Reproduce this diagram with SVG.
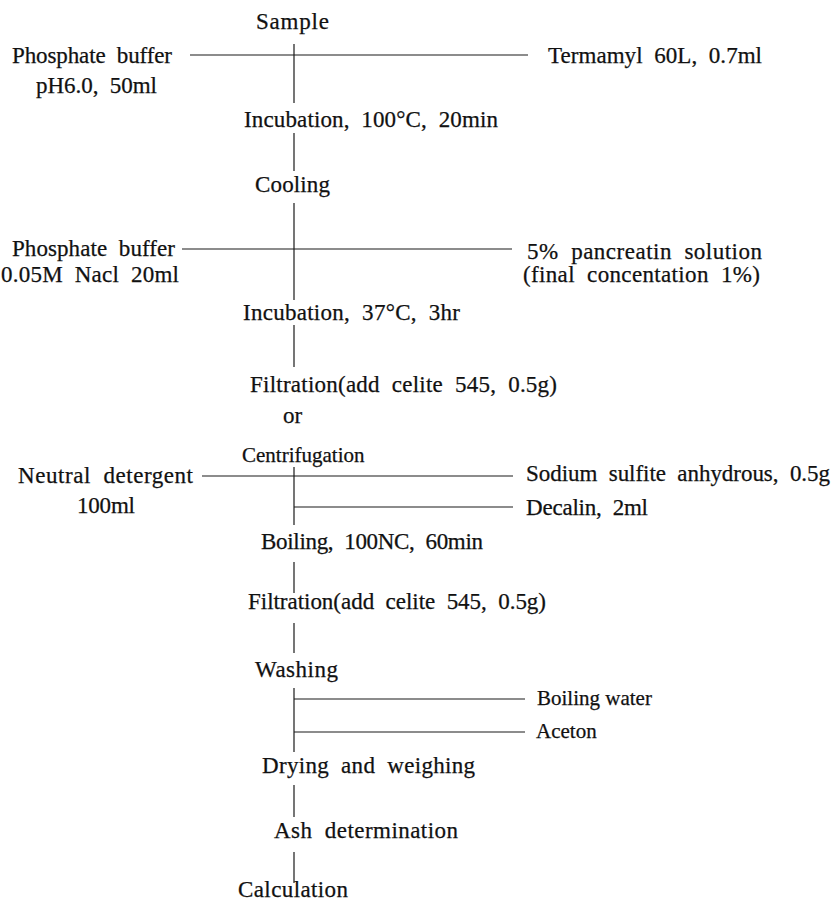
<svg xmlns="http://www.w3.org/2000/svg" width="832" height="904" viewBox="0 0 832 904">
<style>
text{font-family:"Liberation Serif","Times New Roman",serif;font-size:23px;fill:#111;stroke:#111;stroke-width:0.25;white-space:pre}
.s{font-size:21px}
.c line{stroke:#1a1a1a;stroke-width:1.2}
</style>
<rect width="832" height="904" fill="#fff"/>
<g class="c" id="connectors">
<line x1="294" y1="44" x2="294" y2="103"/>
<line x1="190" y1="55" x2="528" y2="55"/>
<line x1="294" y1="133" x2="294" y2="171"/>
<line x1="294" y1="203" x2="294" y2="300"/>
<line x1="182" y1="249" x2="512" y2="249"/>
<line x1="294" y1="325" x2="294" y2="367"/>
<line x1="202" y1="476" x2="513" y2="476"/>
<line x1="294" y1="467" x2="294" y2="525"/>
<line x1="294" y1="507" x2="513" y2="507"/>
<line x1="294" y1="562" x2="294" y2="593"/>
<line x1="294" y1="623" x2="294" y2="653"/>
<line x1="294" y1="688" x2="294" y2="752"/>
<line x1="294" y1="699" x2="525" y2="699"/>
<line x1="294" y1="732" x2="525" y2="732"/>
<line x1="294" y1="785" x2="294" y2="817"/>
<line x1="294" y1="852" x2="294" y2="883"/>
</g>
<g id="sample"><text x="256" y="29" textLength="73">Sample</text></g>
<g id="phosphate1"><text x="12" y="63" textLength="160">Phosphate  buffer</text><text x="36" y="93" textLength="121">pH6.0,  50ml</text></g>
<g id="termamyl"><text x="548" y="63" textLength="214">Termamyl  60L,  0.7ml</text></g>
<g id="incubation1"><text x="244" y="127" textLength="254">Incubation,  100°C,  20min</text></g>
<g id="cooling"><text x="255" y="192" textLength="75">Cooling</text></g>
<g id="phosphate2"><text x="12" y="256" textLength="163">Phosphate  buffer</text><text x="1" y="282" textLength="178">0.05M  Nacl  20ml</text></g>
<g id="pancreatin"><text x="527" y="259" textLength="235">5%  pancreatin  solution</text><text x="523" y="282" textLength="237">(final  concentation  1%)</text></g>
<g id="incubation2"><text x="243" y="320" textLength="217">Incubation,  37°C,  3hr</text></g>
<g id="filtration1"><text x="250" y="392" textLength="307">Filtration(add  celite  545,  0.5g)</text><text x="283" y="423">or</text><text x="242" y="462" class="s">Centrifugation</text></g>
<g id="neutral"><text x="18" y="483" textLength="175">Neutral  detergent</text><text x="77" y="513" textLength="58">100ml</text></g>
<g id="sodium"><text x="526" y="481" textLength="304">Sodium  sulfite  anhydrous,  0.5g</text></g>
<g id="decalin"><text x="526" y="515" textLength="122">Decalin,  2ml</text></g>
<g id="boiling"><text x="261" y="549" textLength="222">Boiling,  100NC,  60min</text></g>
<g id="filtration2"><text x="248" y="609" textLength="298">Filtration(add  celite  545,  0.5g)</text></g>
<g id="washing"><text x="255" y="677" textLength="83">Washing</text></g>
<g id="water"><text x="537" y="705" class="s">Boiling water</text></g>
<g id="aceton"><text x="536" y="738" class="s">Aceton</text></g>
<g id="drying"><text x="262" y="773" textLength="213">Drying  and  weighing</text></g>
<g id="ash"><text x="274" y="838" textLength="184">Ash  determination</text></g>
<g id="calculation"><text x="238" y="897" textLength="110">Calculation</text></g>
</svg>
